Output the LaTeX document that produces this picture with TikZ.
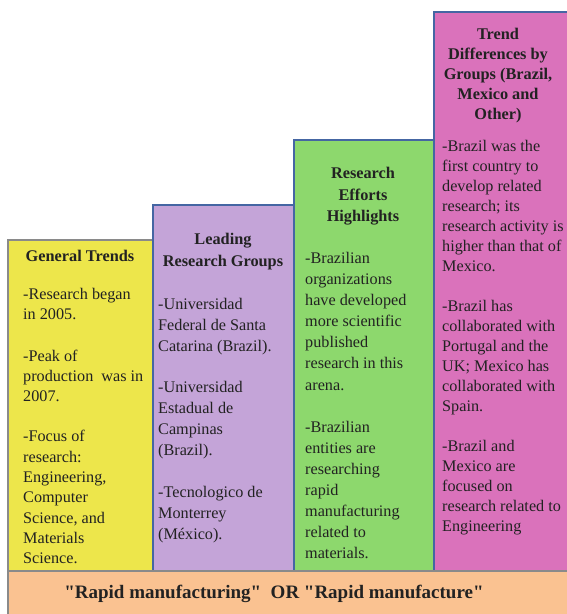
\documentclass[tikz,border=0pt]{standalone}
\usepackage{fontspec}
\setmainfont{Liberation Serif}[Ligatures=TeX]
\usetikzlibrary{positioning}
\definecolor{trendyellow}{HTML}{EDE64B}
\definecolor{grouppurple}{HTML}{C4A4D8}
\definecolor{effortgreen}{HTML}{8DD86D}
\definecolor{diffpink}{HTML}{DA72BB}
\definecolor{queryorange}{HTML}{FAC291}
\definecolor{edgeblue}{HTML}{4566A3}
\definecolor{edgegray}{HTML}{8A8A8A}
\definecolor{inkdark}{HTML}{222222}

\begin{document}
\begin{tikzpicture}[
        x=1pt, y=-1pt,
        stepbox/.style={line width=1.8pt},
        head/.style={font=\fontsize{16.3}{21.5}\selectfont\bfseries, text=inkdark, align=center, inner sep=0pt, anchor=north},
        body/.style={font=\fontsize{16.2}{#1}\selectfont, text=inkdark, align=left, inner sep=0pt, anchor=north west},
        body/.default=20.5
    ]
        \useasboundingbox (0,0) rectangle (566,614);
        \fill[white] (0,0) rectangle (566,614);

        \draw[stepbox, draw=edgegray, fill=trendyellow] (8,240) rectangle (153,571);
        \draw[stepbox, draw=edgeblue, fill=grouppurple] (153,205) rectangle (294,571);
        \draw[stepbox, draw=edgeblue, fill=effortgreen] (294,140) rectangle (434,571);
        \draw[stepbox, draw=edgeblue, fill=diffpink] (434,12) rectangle (580,571);
        \draw[stepbox, draw=edgegray, fill=queryorange] (8,571) rectangle (580,620);

        \node[head] (general) at (80,250) {General Trends};
        \node[body=20.3] (generaltxt) at (23,288) {-Research began\\in 2005.\\[21pt]
            -Peak of\\production~ was in\\2007.\\[20pt]
            -Focus of\\research:\\Engineering,\\Computer\\Science, and\\Materials\\Science.};

        \node[head, font=\fontsize{16.3}{22}\selectfont\bfseries] (leading) at (223,233) {Leading\\Research Groups};
        \node[body=21] (leadingtxt) at (158,298) {-Universidad\\Federal de Santa\\Catarina (Brazil).\\[20pt]
            -Universidad\\Estadual de\\Campinas\\(Brazil).\\[21pt]
            -Tecnologico de\\Monterrey\\(México).};

        \node[head] (efforts) at (363,167) {Research\\Efforts\\Highlights};
        \node[body=21.1] (effortstxt) at (305,252) {-Brazilian\\organizations\\have developed\\more scientific\\published\\research in this\\arena.\\[21pt]
            -Brazilian\\entities are\\researching\\rapid\\manufacturing\\related to\\materials.};

        \node[head, font=\fontsize{16.3}{20}\selectfont\bfseries] (differences) at (498,28) {Trend\\Differences by\\Groups (Brazil,\\Mexico and\\Other)};
        \node[body=20] (differencestxt) at (442,140) {-Brazil was the\\first country to\\develop related\\research; its\\research activity is\\higher than that of\\Mexico.\\[20pt]
            -Brazil has\\collaborated with\\Portugal and the\\UK; Mexico has\\collaborated with\\Spain.\\[20pt]
            -Brazil and\\Mexico are\\focused on\\research related to\\Engineering};

        \node[font=\fontsize{19}{22}\selectfont\bfseries, text=inkdark] (query) at (274,594) {\textquotedbl Rapid manufacturing\textquotedbl~ OR \textquotedbl Rapid manufacture\textquotedbl};
    \end{tikzpicture}
\end{document}
